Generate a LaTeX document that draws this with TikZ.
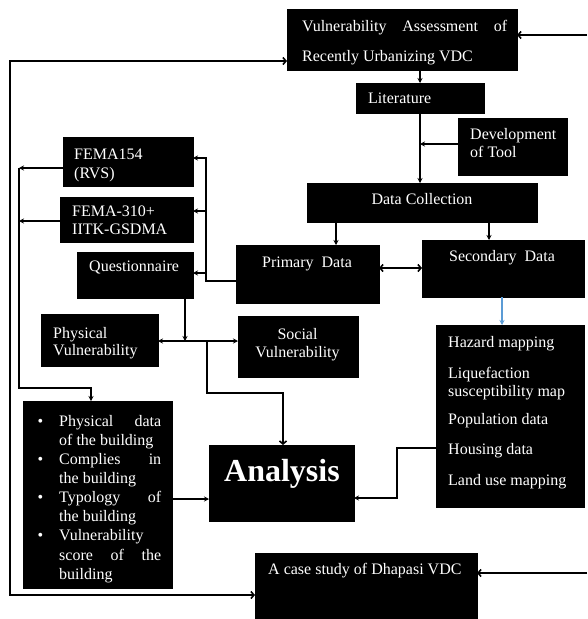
\documentclass[tikz,border=0pt]{standalone}
\usepackage{fontspec}
\setmainfont{Liberation Serif}
\usetikzlibrary{arrows.meta,calc}
\newcommand{\mybox}[5]{\node[box, minimum width={(#4)-(#2)}, minimum height={(#5)-(#3)}] (#1) at (#2,#3) {};}
\begin{document}
\begin{tikzpicture}[x=1pt,y=-1pt,
  box/.style={fill=black, draw=black, inner sep=0pt, outer sep=0pt, anchor=north west},
  txt/.style={text=white, inner sep=0pt, font=\fontsize{16}{18}\selectfont},
  conn/.style={line width=1.6pt, draw=black},
  arr/.style={conn, -{Stealth[length=5pt,width=5pt]}},
  arrboth/.style={conn, {Stealth[length=5pt,width=5pt]}-{Stealth[length=5pt,width=5pt]}},
  barb/.style={conn, -{Straight Barb[length=3pt,width=7pt]}},
  barbboth/.style={conn, {Straight Barb[length=3pt,width=7pt]}-{Straight Barb[length=3pt,width=7pt]}},
  bluearr/.style={line width=1.3pt, draw=blueA, -{Stealth[length=5pt,width=5pt]}},
]
\definecolor{blueA}{HTML}{5B9BD5}
\useasboundingbox[fill=white] (0,0) rectangle (587,619);

% boxes
\mybox{top}{287}{9}{517}{70}
\mybox{lit}{356}{83}{484}{113}
\mybox{dev}{458}{118}{567}{175}
\mybox{dc}{307}{183}{537}{222}
\mybox{prim}{236}{245}{379}{303}
\mybox{sec}{422}{240}{584}{297}
\mybox{femaA}{63}{137}{193}{186}
\mybox{femaB}{60}{197}{193}{242}
\mybox{quest}{77}{252}{193}{298}
\mybox{phys}{41}{314}{158}{366}
\mybox{soc}{238}{316}{358}{377}
\mybox{ana}{209}{445}{354}{521}
\mybox{bul}{23}{401}{172}{588}
\mybox{haz}{436}{325}{584}{507}
\mybox{case}{255}{553}{477}{619}

% texts
\node[txt, anchor=north west, align=left] (topT) at (302,20)
  {\makebox[205pt][s]{Vulnerability Assessment of}\\[12pt]Recently Urbanizing VDC};
\node[txt, anchor=base west] (litT) at (368,103) {Literature};
\node[txt, anchor=north west, align=left] (devT) at (470,128) {Development\\of Tool};
\node[txt, anchor=base] (dcT) at (422,204) {Data Collection};
\node[txt, anchor=base] (primT) at (307,267) {Primary\ \ Data};
\node[txt, anchor=base] (secT) at (502,261) {Secondary\ \ Data};
\node[txt, anchor=north west, align=left, font=\fontsize{16}{19}\selectfont] (femaAT) at (74,149) {FEMA154\\(RVS)};
\node[txt, anchor=north west, align=left] (femaBT) at (72,206) {FEMA-310+\\IITK-GSDMA};
\node[txt, anchor=base west] (questT) at (89,271) {Questionnaire};
\node[txt, anchor=north west, align=left, font=\fontsize{16}{17}\selectfont] (physT) at (53,327) {Physical\\Vulnerability};
\node[txt, anchor=north, align=center] (socT) at (297.5,328) {Social\\Vulnerability};
\node[txt, anchor=base, font=\fontsize{32}{36}\selectfont\bfseries] (anaT) at (282,481) {Analysis};
\node[txt, anchor=north west, text width=102pt, align=justify, font=\fontsize{16}{19.1}\selectfont] (bulT) at (59,415)
  {\noindent\llap{\textbullet\hspace{16pt}}Physical data\linebreak of the building\par
   \noindent\llap{\textbullet\hspace{16pt}}Complies in\linebreak the building\par
   \noindent\llap{\textbullet\hspace{16pt}}Typology of\linebreak the building\par
   \noindent\llap{\textbullet\hspace{16pt}}Vulnerability\linebreak score of the\linebreak building\par};
\node[txt, anchor=north west, align=left] (hazT) at (448,336)
  {Hazard mapping\\[13pt]Liquefaction\\susceptibility map\\[10pt]Population data\\[12pt]Housing data\\[13pt]Land use mapping};
\node[txt, anchor=base west] (caseT) at (268,574) {A case study of Dhapasi VDC};

% coordinates for connector bends
\coordinate (rin1) at (587,35);
\coordinate (rin2) at (587,573);
\coordinate (L1) at (10,61);
\coordinate (L2) at (10,595);
\coordinate (dcP) at (336,222);
\coordinate (dcS) at (489,222);
\coordinate (ps) at (400,268);
\coordinate (dvY) at (420,144);
\coordinate (v1) at (206,158);
\coordinate (v2) at (206,211);
\coordinate (v3) at (206,273);
\coordinate (v4) at (206,281);
\coordinate (w1) at (19,168);
\coordinate (w2) at (19,221);
\coordinate (w3) at (19,388);
\coordinate (w4) at (91,388);
\coordinate (q1) at (185,341);
\coordinate (a1) at (207,341);
\coordinate (a2) at (207,393);
\coordinate (a3) at (283,393);
\coordinate (b1) at (172,499);
\coordinate (h1) at (397,448);
\coordinate (h2) at (397,498);

% connectors
\draw[barb] (rin1) -- (top.east |- rin1);
\draw[barbboth] (top.west |- L1) -- (L1) -- (L2) -- (case.west |- L2);
\draw[barb] (rin2) -- (case.east |- rin2);
\draw[arr] (top.south -| dvY) -- (lit.north -| dvY);
\draw[arr] (lit.south -| dvY) -- (dc.north -| dvY);
\draw[arr] (dev.west |- dvY) -- (dvY);
\draw[arr] (dcP) -- (dcP |- prim.north);
\draw[arr] (dcS) -- (dcS |- sec.north);
\draw[barbboth] (prim.east |- ps) -- (sec.west |- ps);
\draw[bluearr] (sec.south -| 502,0) -- (haz.north -| 502,0);
\draw[arr] (prim.west |- v4) -- (v4) -- (v1) -- (femaA.east |- v1);
\draw[arr] (v2) -- (femaB.east |- v2);
\draw[arr] (v3) -- (quest.east |- v3);
\draw[arr] (femaA.west |- w1) -- (w1);
\draw[arr] (femaB.west |- w2) -- (w2);
\draw[arr] (w1) -- (w3) -- (w4) -- (w4 |- bul.north);
\draw[arr] (quest.south -| q1) -- (q1);
\draw[arrboth] (phys.east |- q1) -- (soc.west |- q1);
\draw[barb] (a1) -- (a2) -- (a3) -- (a3 |- ana.north);
\draw[arr] (b1) -- (ana.west |- b1);
\draw[arr] (haz.west |- h1) -- (h1) -- (h2) -- (ana.east |- h2);
\end{tikzpicture}
\end{document}
